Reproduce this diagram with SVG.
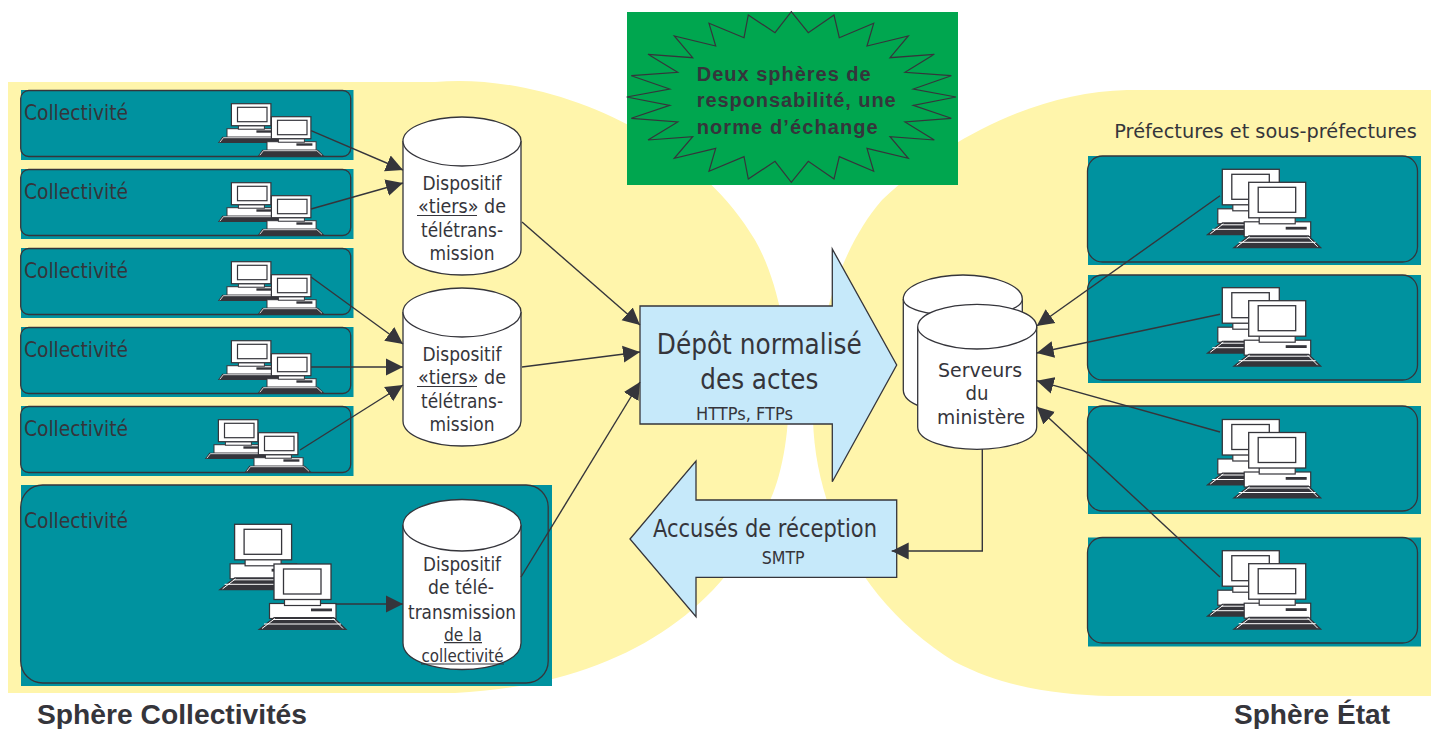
<svg xmlns="http://www.w3.org/2000/svg" xmlns:xlink="http://www.w3.org/1999/xlink" width="1432" height="729" viewBox="0 0 1432 729">
<style>
text{font-family:"DejaVu Sans","Liberation Sans",sans-serif;fill:#35353b}
.b{font-family:"Liberation Sans",Arial,sans-serif;font-weight:700}
.m{text-anchor:middle}
.teal{fill:#00929f}
.round{fill:none;stroke:#35353b;stroke-width:1.3}
.cyl{fill:#fff;stroke:#35353b;stroke-width:1.3}
.con{fill:none;stroke:#35353b;stroke-width:1.4}
.arrow{marker-end:url(#ah)}
.blue{fill:#c6e9fa;stroke:#35353b;stroke-width:1.3}
.u{fill:none;stroke:#35353b;stroke-width:1.2}
</style>
<defs>
<marker id="ah" markerUnits="userSpaceOnUse" markerWidth="19" markerHeight="18" refX="17" refY="9" orient="auto"><path d="M0,0.5L17,9L0,17.5Z" fill="#35353b"/></marker>
<g id="pc">
<rect x="-4.5" y="39.5" width="66.5" height="15" fill="#fff" stroke="#35353b" stroke-width="1.2"/>
<rect x="37" y="44.5" width="21" height="2.8" fill="#35353b"/>
<rect x="10.5" y="35" width="36" height="6.5" fill="#fff" stroke="#35353b" stroke-width="1.2"/>
<rect x="0" y="0" width="57" height="35.5" fill="#fff" stroke="#35353b" stroke-width="1.3"/>
<rect x="9.5" y="5" width="37.5" height="25" fill="#fff" stroke="#35353b" stroke-width="1.3"/>
<path d="M0,53H60L73.5,66H-16.5Z" fill="#35353b"/>
<path d="M-1,55.5H61M-12,64.5L1,54.5M69,64.5L59,54.5M-10,60H67" stroke="#fff" stroke-width="1" fill="none"/>
</g>
<g id="pcs">
<rect x="-4.4" y="25" width="49.1" height="8.5" fill="#fff" stroke="#35353b" stroke-width="1"/>
<rect x="25" y="26.6" width="16" height="2.4" fill="#35353b"/>
<rect x="7" y="22" width="26" height="3.5" fill="#fff" stroke="#35353b" stroke-width="1"/>
<rect x="0" y="0" width="39.5" height="22" fill="#fff" stroke="#35353b" stroke-width="1.2"/>
<rect x="6.1" y="3.6" width="29.5" height="14.4" fill="#fff" stroke="#35353b" stroke-width="1.2"/>
<path d="M-9,33H46.5L52.9,39.3H-13.5Z" fill="#35353b"/>
<path d="M-8,34H45.5M-11.5,38.5L-8,34M50.5,38.5L45.5,34" stroke="#fff" stroke-width=".8" fill="none"/>
</g>
</defs>

<g id="background">
<path d="M8,82H435C540,72 690,130 755,240C795,310 800,440 768,505C725,610 620,685 455,693H8Z" fill="#fff5ab"/>
<path d="M1431,90H1127C1040,92 950,135 882,200C838,250 812,340 813,420C816,520 870,610 955,662C1005,688 1060,695 1110,696H1431Z" fill="#fff5ab"/>
</g>

<g id="callout">
<rect x="627" y="12" width="331" height="173" fill="#00a64f"/>
<polygon fill="none" stroke="#35353b" stroke-width="1.2" points="791.3,11.7 808.3,32.7 834,15 839.3,37.7 873.7,23.3 867,46 908.3,36 890,57.7 934.3,54.3 905,72.3 951.3,75.7 913.3,89 956,97 913.3,105.3 951.3,118.3 905,122 934.3,140 890,136.7 908.3,158.3 867,148.3 873.7,171.3 839.3,156.7 834,179 808.3,161.3 791.3,182.3 775,161.3 748.3,179 744,156.7 709,171.3 715.7,148.3 674.3,158.3 692.7,136.7 648,140 677.7,122 631.3,118.3 669.7,105.3 626.7,97 669.7,89 631.3,75.7 677.7,72.3 648,54.3 692.7,57.7 674.3,36 715.7,46 709,23.3 744,37.7 748.3,15 775,32.7"/>
<text class="b" x="696.7" y="81" font-size="20" textLength="174" lengthAdjust="spacing">Deux sphères de</text>
<text class="b" x="696.7" y="107.3" font-size="20" textLength="199" lengthAdjust="spacing">responsabilité, une</text>
<text class="b" x="696.7" y="134" font-size="20" textLength="181" lengthAdjust="spacing">norme d’échange</text>
</g>

<g id="collectivite-1">
<rect class="teal" x="21" y="90" width="332.5" height="70"/><rect class="round" x="20.7" y="90.5" width="330" height="66" rx="8"/>
<text x="24" y="120" font-size="21" textLength="104" lengthAdjust="spacingAndGlyphs">Collectivité</text>
<use xlink:href="#pcs" href="#pcs" x="231.4" y="103.7"/><use xlink:href="#pcs" href="#pcs" x="271.4" y="116.7"/>
</g>
<g id="collectivite-2">
<rect class="teal" x="21" y="169" width="332.5" height="70"/><rect class="round" x="20.7" y="169.5" width="330" height="66" rx="8"/>
<text x="24" y="199" font-size="21" textLength="104" lengthAdjust="spacingAndGlyphs">Collectivité</text>
<use xlink:href="#pcs" href="#pcs" x="231.4" y="182.7"/><use xlink:href="#pcs" href="#pcs" x="271.4" y="195.7"/>
</g>
<g id="collectivite-3">
<rect class="teal" x="21" y="248" width="332.5" height="70"/><rect class="round" x="20.7" y="248.5" width="330" height="66" rx="8"/>
<text x="24" y="278" font-size="21" textLength="104" lengthAdjust="spacingAndGlyphs">Collectivité</text>
<use xlink:href="#pcs" href="#pcs" x="231.4" y="261.7"/><use xlink:href="#pcs" href="#pcs" x="271.4" y="274.7"/>
</g>
<g id="collectivite-4">
<rect class="teal" x="21" y="327" width="332.5" height="70"/><rect class="round" x="20.7" y="327.5" width="330" height="66" rx="8"/>
<text x="24" y="357" font-size="21" textLength="104" lengthAdjust="spacingAndGlyphs">Collectivité</text>
<use xlink:href="#pcs" href="#pcs" x="231.4" y="340.7"/><use xlink:href="#pcs" href="#pcs" x="271.4" y="353.7"/>
</g>
<g id="collectivite-5">
<rect class="teal" x="21" y="406" width="332.5" height="70"/><rect class="round" x="20.7" y="406.5" width="330" height="66" rx="8"/>
<text x="24" y="436" font-size="21" textLength="104" lengthAdjust="spacingAndGlyphs">Collectivité</text>
<use xlink:href="#pcs" href="#pcs" x="218.4" y="419.7"/><use xlink:href="#pcs" href="#pcs" x="258.4" y="432.7"/>
</g>
<g id="collectivite-6">
<rect class="teal" x="21" y="485" width="531" height="201"/><rect class="round" x="20.7" y="485" width="527.5" height="198" rx="22"/>
<text x="24" y="527.7" font-size="21" textLength="104" lengthAdjust="spacingAndGlyphs">Collectivité</text>
<use xlink:href="#pc" href="#pc" x="234.6" y="524.3"/><use xlink:href="#pc" href="#pc" x="274" y="564"/>
</g>

<g id="dispositif-1">
<path class="cyl" d="M403,141C403,127 432,117 462,117C492,117 521,127 521,141V250C521,265 492,275 462,275C432,275 403,265 403,250Z"/>
<path class="cyl" d="M403,141C403,155 432,166 462,166C492,166 521,155 521,141"/>
<text class="m" x="462" y="190" font-size="20" textLength="79" lengthAdjust="spacingAndGlyphs">Dispositif</text>
<text x="418" y="212.5" font-size="20" textLength="88" lengthAdjust="spacingAndGlyphs">«tiers» de</text><path class="u" d="M417,215.5H477"/>
<text class="m" x="462" y="236.7" font-size="20" textLength="82" lengthAdjust="spacingAndGlyphs">télétrans-</text>
<text class="m" x="462" y="260" font-size="20" textLength="65" lengthAdjust="spacingAndGlyphs">mission</text>
</g>
<g id="dispositif-2">
<path class="cyl" d="M403,312C403,298 432,288 462,288C492,288 521,298 521,312V421C521,436 492,446 462,446C432,446 403,436 403,421Z"/>
<path class="cyl" d="M403,312C403,326 432,337 462,337C492,337 521,326 521,312"/>
<text class="m" x="462" y="361" font-size="20" textLength="79" lengthAdjust="spacingAndGlyphs">Dispositif</text>
<text x="418" y="383.5" font-size="20" textLength="88" lengthAdjust="spacingAndGlyphs">«tiers» de</text><path class="u" d="M417,386.5H477"/>
<text class="m" x="462" y="407.7" font-size="20" textLength="82" lengthAdjust="spacingAndGlyphs">télétrans-</text>
<text class="m" x="462" y="431" font-size="20" textLength="65" lengthAdjust="spacingAndGlyphs">mission</text>
</g>
<g id="dispositif-3">
<path class="cyl" d="M403,525C403,510 432,499.5 462,499.5C492,499.5 521,510 521,525V643C521,660 492,669.5 462,669.5C432,669.5 403,660 403,643Z"/>
<path class="cyl" d="M403,525C403,540 432,551 462,551C492,551 521,540 521,525"/>
<text class="m" x="462" y="570.7" font-size="20" textLength="78" lengthAdjust="spacingAndGlyphs">Dispositif</text>
<text class="m" x="461" y="594" font-size="20" textLength="66" lengthAdjust="spacingAndGlyphs">de télé-</text>
<text class="m" x="462" y="619" font-size="20" textLength="108" lengthAdjust="spacingAndGlyphs">transmission</text>
<text class="m" x="463" y="640.7" font-size="18" textLength="38" lengthAdjust="spacingAndGlyphs">de la</text><path class="u" d="M444,642.7H482"/>
<text class="m" x="462.5" y="661.7" font-size="18" textLength="82" lengthAdjust="spacingAndGlyphs">collectivité</text><path class="u" d="M421,664H504"/>
</g>

<g id="depot">
<polygon class="blue" points="640,306 832.3,306 832.3,249 896.7,365 832.3,481.7 832.3,424 640,424"/>
<text class="m" x="759.3" y="354.3" font-size="28" textLength="205" lengthAdjust="spacingAndGlyphs">Dépôt normalisé</text>
<text class="m" x="759.3" y="389" font-size="28" textLength="118" lengthAdjust="spacingAndGlyphs">des actes</text>
<text x="696" y="420" font-size="17" textLength="97" lengthAdjust="spacingAndGlyphs">HTTPs, FTPs</text>
</g>
<g id="accuses">
<polygon class="blue" points="630,539 696,461 696,500 896.7,500 896.7,577.3 696,577.3 696,616.7"/>
<text x="653" y="536.7" font-size="25" textLength="224" lengthAdjust="spacingAndGlyphs">Accusés de réception</text>
<text x="761.7" y="564" font-size="17" textLength="43" lengthAdjust="spacingAndGlyphs">SMTP</text>
</g>

<g id="serveurs">
<path class="cyl" d="M903.3,299C903.3,285 933,275 963,275C993,275 1022.3,285 1022.3,299V390C1022.3,405 993,413 963,413C933,413 903.3,405 903.3,390Z"/>
<path class="cyl" d="M903.3,299C903.3,308 925,316 963,316C1001,316 1022.3,308 1022.3,299"/>
<path class="cyl" d="M917.7,327C917.7,313 947,304.3 977,304.3C1007,304.3 1036.7,313 1036.7,327V427C1036.7,441 1007,449.3 977,449.3C947,449.3 917.7,441 917.7,427Z"/>
<path class="cyl" d="M917.7,327C917.7,338 945,349 977,349C1009,349 1036.7,338 1036.7,327"/>
<text class="m" x="980" y="376.7" font-size="20" textLength="84" lengthAdjust="spacingAndGlyphs">Serveurs</text>
<text class="m" x="977" y="400" font-size="20" textLength="23" lengthAdjust="spacingAndGlyphs">du</text>
<text class="m" x="981" y="424.3" font-size="20" textLength="88" lengthAdjust="spacingAndGlyphs">ministère</text>
</g>

<text x="1114.3" y="138.3" font-size="20" textLength="302.5" lengthAdjust="spacingAndGlyphs">Préfectures et sous-préfectures</text>
<g id="prefecture-1">
<rect class="teal" x="1088" y="156" width="333" height="109"/><rect class="round" x="1087.5" y="156" width="330" height="106" rx="15"/>
<use xlink:href="#pc" href="#pc" x="1222.3" y="169.3"/><use xlink:href="#pc" href="#pc" x="1248.7" y="182.3"/>
</g>
<g id="prefecture-2">
<rect class="teal" x="1088" y="275" width="333" height="108"/><rect class="round" x="1087.5" y="275" width="330" height="105" rx="15"/>
<use xlink:href="#pc" href="#pc" x="1222.3" y="287.7"/><use xlink:href="#pc" href="#pc" x="1248.7" y="300.7"/>
</g>
<g id="prefecture-3">
<rect class="teal" x="1088" y="406" width="333" height="108"/><rect class="round" x="1087.5" y="406" width="330" height="105" rx="15"/>
<use xlink:href="#pc" href="#pc" x="1222.3" y="419.5"/><use xlink:href="#pc" href="#pc" x="1248.7" y="432.5"/>
</g>
<g id="prefecture-4">
<rect class="teal" x="1088" y="537.5" width="333" height="109"/><rect class="round" x="1087.5" y="537.5" width="330" height="105.5" rx="15"/>
<use xlink:href="#pc" href="#pc" x="1222.3" y="550.7"/><use xlink:href="#pc" href="#pc" x="1248.7" y="563.7"/>
</g>

<g id="connectors">
<path class="con arrow" d="M311,130.7L403,170"/>
<path class="con arrow" d="M311,209L403,183"/>
<path class="con arrow" d="M311,277L403,344"/>
<path class="con arrow" d="M311,367H403"/>
<path class="con arrow" d="M300,450L403,385"/>
<path class="con arrow" d="M522,222L640,325"/>
<path class="con arrow" d="M522,367L640,352"/>
<path class="con arrow" d="M521,577L640,382"/>
<path class="con arrow" d="M335.7,604H403"/>
<path class="con arrow" d="M1220,195.7L1036.7,326"/>
<path class="con arrow" d="M1220,314.3L1036.7,353"/>
<path class="con arrow" d="M1220,432L1036.7,380.7"/>
<path class="con arrow" d="M1220,577L1036.7,406.7"/>
<path class="con arrow" d="M982.3,449V551H891.7"/>
</g>

<text class="b" x="37" y="724" font-size="27" textLength="270" lengthAdjust="spacingAndGlyphs">Sphère Collectivités</text>
<text class="b" x="1234" y="724" font-size="27" textLength="156" lengthAdjust="spacingAndGlyphs">Sphère État</text>
</svg>
